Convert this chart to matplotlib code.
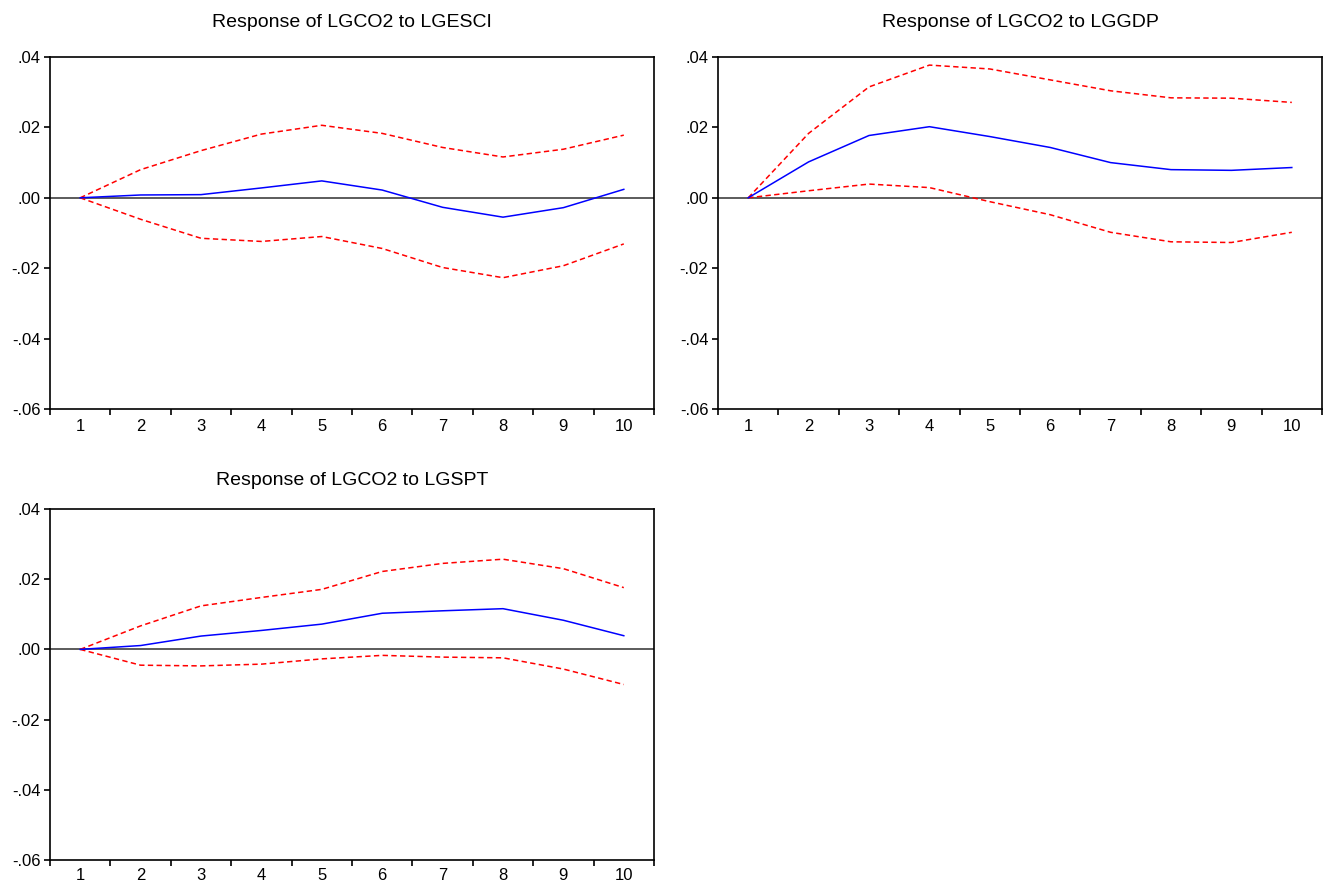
import matplotlib
matplotlib.use("Agg")
import matplotlib.pyplot as plt
import numpy as np
from matplotlib.ticker import FixedLocator, FuncFormatter

plt.rcParams['font.family'] = ['Liberation Sans', 'DejaVu Sans']

periods = [1, 2, 3, 4, 5, 6, 7, 8, 9, 10]

titles = ["Response of LGCO2 to LGESCI",
          "Response of LGCO2 to LGGDP",
          "Response of LGCO2 to LGSPT"]

esci_resp = [0.0, 0.0008, 0.0009, 0.0028, 0.0048, 0.0022, -0.0027, -0.0055, -0.0028, 0.0024]
esci_upper = [0.0, 0.0080, 0.0134, 0.0181, 0.0206, 0.0183, 0.0143, 0.0116, 0.0138, 0.0178]
esci_lower = [0.0, -0.0061, -0.0115, -0.0124, -0.0110, -0.0144, -0.0198, -0.0227, -0.0193, -0.0131]

gdp_resp = [0.0, 0.0102, 0.0177, 0.0202, 0.0174, 0.0143, 0.0100, 0.0080, 0.0078, 0.0086]
gdp_upper = [0.0, 0.0183, 0.0315, 0.0377, 0.0366, 0.0335, 0.0304, 0.0284, 0.0283, 0.0271]
gdp_lower = [0.0, 0.0020, 0.0039, 0.0029, -0.0011, -0.0048, -0.0098, -0.0125, -0.0127, -0.0098]

spt_resp = [0.0, 0.0011, 0.0038, 0.0054, 0.0072, 0.0103, 0.0110, 0.0116, 0.0083, 0.0039]
spt_upper = [0.0, 0.0067, 0.0124, 0.0148, 0.0171, 0.0222, 0.0245, 0.0257, 0.0230, 0.0176]
spt_lower = [0.0, -0.0045, -0.0047, -0.0042, -0.0027, -0.0017, -0.0022, -0.0024, -0.0056, -0.0100]

y_ticks = [-0.06, -0.04, -0.02, 0.00, 0.02, 0.04]

W, H = 1325, 885
fig = plt.figure(figsize=(W / 100, H / 100), dpi=100)

def px_axes(x0, y0, x1, y1):
    return fig.add_axes([x0 / W, 1 - y1 / H, (x1 - x0) / W, (y1 - y0) / H])

ax1 = px_axes(50, 57, 654, 409)
ax2 = px_axes(718, 57, 1322, 409)
ax3 = px_axes(50, 509, 654, 860)

def fmt(v, pos):
    s = "%.2f" % v
    if s.startswith("-0"):
        s = "-" + s[2:]
    elif s.startswith("0"):
        s = s[1:]
    return s

panels = [(ax1, titles[0], esci_resp, esci_upper, esci_lower, 21.6, 7.5),
          (ax2, titles[1], gdp_resp, gdp_upper, gdp_lower, 21.6, 7.5),
          (ax3, titles[2], spt_resp, spt_upper, spt_lower, 17.3, 5.5)]

for ax, title, resp, up, lo, tpad, xpad in panels:
    ax.axhline(0, color='#404040', lw=1.2, zorder=1)
    ax.plot(periods, up, color='red', lw=1.1, ls=(0, (3.5, 2.2)), zorder=2)
    ax.plot(periods, lo, color='red', lw=1.1, ls=(0, (3.5, 2.2)), zorder=2)
    ax.plot(periods, resp, color='blue', lw=1.1, zorder=3)
    ax.set_xlim(0.5, 10.5)
    ax.set_ylim(-0.06, 0.04)
    ax.xaxis.set_major_locator(FixedLocator(np.arange(0.5, 11, 1.0)))
    ax.xaxis.set_minor_locator(FixedLocator(periods))
    ax.xaxis.set_major_formatter(FuncFormatter(lambda v, p: ""))
    ax.xaxis.set_minor_formatter(FuncFormatter(lambda v, p: "%d" % round(v)))
    ax.tick_params(axis='x', which='major', direction='out', length=4, width=1.2)
    ax.tick_params(axis='x', which='minor', length=0, pad=xpad, labelsize=12)
    ax.yaxis.set_major_locator(FixedLocator(y_ticks))
    ax.yaxis.set_major_formatter(FuncFormatter(fmt))
    ax.tick_params(axis='y', direction='out', length=4, width=1.2, pad=3, labelsize=12)
    for s in ax.spines.values():
        s.set_linewidth(1.2)
        s.set_color('black')
    ax.set_title(title, fontsize=14, pad=tpad)

fig.savefig("out.png", dpi=100)
